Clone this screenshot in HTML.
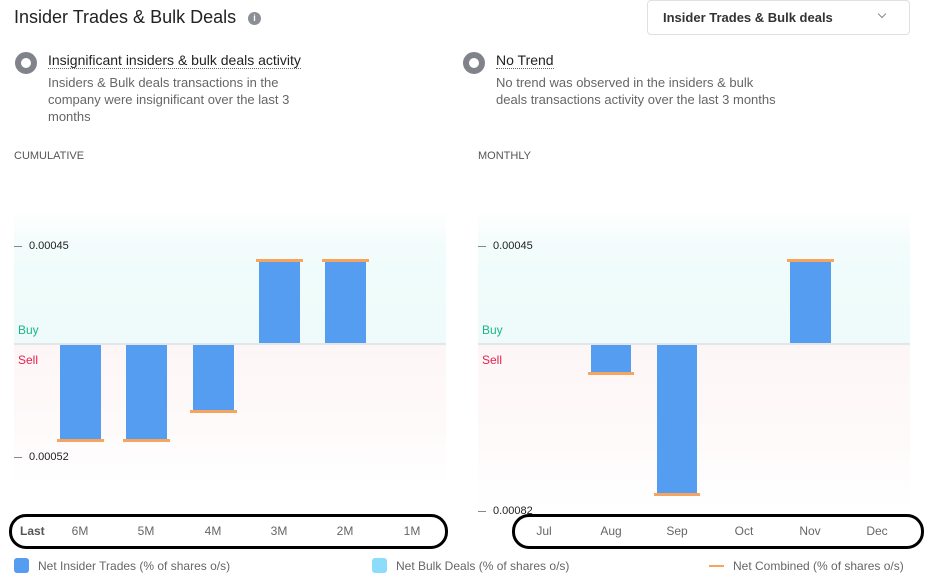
<!DOCTYPE html><html><head><style>
body{margin:0;width:936px;height:579px;background:#fff;font-family:"Liberation Sans",sans-serif;position:relative;overflow:hidden}
.a{position:absolute;white-space:nowrap}
.bar{position:absolute;background:#559df0}
.ol{position:absolute;height:3px;background:#f7a55e}
.t{font-size:11px;color:#222}
.x{font-size:12px;color:#666;width:40px;text-align:center}
</style></head><body>
<div class="a" style="left:14px;top:7px;font-size:18px;color:#222">Insider Trades &amp; Bulk Deals</div>
<div class="a" style="left:248px;top:12px;width:13px;height:13px;border-radius:50%;background:#8b8f95;color:#fff;font-size:9px;font-weight:bold;text-align:center;line-height:13px">i</div>
<div class="a" style="left:647px;top:0;width:261px;height:33px;border:1px solid #dde0e4;border-radius:4px"></div>
<div class="a" style="left:663px;top:10px;font-size:13px;font-weight:bold;color:#333">Insider Trades &amp; Bulk deals</div>
<div class="a" style="left:879px;top:11px;width:5px;height:5px;border-right:1px solid #888;border-bottom:1px solid #888;transform:rotate(45deg)"></div>

<div class="a" style="left:15px;top:52px;width:10px;height:10px;border:6px solid #80848a;border-radius:50%;background:#fff"></div>
<div class="a" style="left:48px;top:52px;font-size:14px;color:#222;border-bottom:1px dotted #666;line-height:16px">Insignificant insiders &amp; bulk deals activity</div>
<div class="a" style="left:48px;top:74px;font-size:13px;color:#666;line-height:17px">Insiders &amp; Bulk deals transactions in the<br>company were insignificant over the last 3<br>months</div>
<div class="a" style="left:463px;top:52px;width:10px;height:10px;border:6px solid #80848a;border-radius:50%;background:#fff"></div>
<div class="a" style="left:496px;top:52px;font-size:14px;color:#222;border-bottom:1px dotted #666;line-height:16px">No Trend</div>
<div class="a" style="left:496px;top:74px;font-size:13px;color:#666;line-height:17px">No trend was observed in the insiders &amp; bulk<br>deals transactions activity over the last 3 months</div>

<div class="a" style="left:14px;top:150px;font-size:11px;color:#555">CUMULATIVE</div>
<div class="a" style="left:478px;top:150px;font-size:11px;color:#555">MONTHLY</div>

<div class="a" style="left:14px;top:210px;width:432px;height:133px;background:linear-gradient(#fff,#f1fcfb 30%,#eefbfa)"></div>
<div class="a" style="left:14px;top:343px;width:432px;height:2px;background:#e3e6e9"></div>
<div class="a" style="left:14px;top:345px;width:432px;height:140px;background:linear-gradient(#fdf6f7,#fefafa 60%,#fff)"></div>
<div class="a" style="left:478px;top:210px;width:432px;height:133px;background:linear-gradient(#fff,#f1fcfb 30%,#eefbfa)"></div>
<div class="a" style="left:478px;top:343px;width:432px;height:2px;background:#e3e6e9"></div>
<div class="a" style="left:478px;top:345px;width:432px;height:165px;background:linear-gradient(#fdf6f7,#fefafa 60%,#fff)"></div>

<div class="a" style="left:18px;top:323px;font-size:12px;color:#1bb58c">Buy</div>
<div class="a" style="left:18px;top:353px;font-size:12px;color:#e8204e">Sell</div>
<div class="a" style="left:482px;top:323px;font-size:12px;color:#1bb58c">Buy</div>
<div class="a" style="left:482px;top:353px;font-size:12px;color:#e8204e">Sell</div>

<div class="a" style="left:14px;top:246px;width:8px;height:1px;background:#888"></div><div class="a t" style="left:29px;top:240px">0.00045</div>
<div class="a" style="left:14px;top:457px;width:8px;height:1px;background:#888"></div><div class="a t" style="left:29px;top:451px">0.00052</div>
<div class="a" style="left:478px;top:246px;width:8px;height:1px;background:#888"></div><div class="a t" style="left:493px;top:240px">0.00045</div>
<div class="a" style="left:478px;top:511px;width:8px;height:1px;background:#888"></div><div class="a t" style="left:493px;top:505px">0.00082</div>

<div class="bar" style="left:60px;top:345px;width:41px;height:95px"></div><div class="ol" style="left:57px;top:439px;width:47px"></div>
<div class="bar" style="left:126px;top:345px;width:41px;height:95px"></div><div class="ol" style="left:123px;top:439px;width:47px"></div>
<div class="bar" style="left:193px;top:345px;width:41px;height:66px"></div><div class="ol" style="left:190px;top:410px;width:47px"></div>
<div class="bar" style="left:259px;top:261px;width:41px;height:82px"></div><div class="ol" style="left:256px;top:259px;width:47px"></div>
<div class="bar" style="left:325px;top:261px;width:41px;height:82px"></div><div class="ol" style="left:322px;top:259px;width:47px"></div>
<div class="bar" style="left:591px;top:345px;width:40px;height:28px"></div><div class="ol" style="left:588px;top:372px;width:46px"></div>
<div class="bar" style="left:657px;top:345px;width:40px;height:149px"></div><div class="ol" style="left:654px;top:493px;width:46px"></div>
<div class="bar" style="left:790px;top:261px;width:41px;height:82px"></div><div class="ol" style="left:787px;top:259px;width:47px"></div>

<div class="a" style="left:9px;top:514px;width:433px;height:29px;border:3px solid #000;border-radius:17px"></div>
<div class="a" style="left:20px;top:524px;font-size:12px;font-weight:bold;color:#555">Last</div>
<div class="a x" style="left:60px;top:524px">6M</div><div class="a x" style="left:126px;top:524px">5M</div><div class="a x" style="left:193px;top:524px">4M</div><div class="a x" style="left:259px;top:524px">3M</div><div class="a x" style="left:325px;top:524px">2M</div><div class="a x" style="left:392px;top:524px">1M</div>
<div class="a" style="left:512px;top:514px;width:406px;height:29px;border:3px solid #000;border-radius:17px"></div>
<div class="a x" style="left:524px;top:524px">Jul</div><div class="a x" style="left:591px;top:524px">Aug</div><div class="a x" style="left:657px;top:524px">Sep</div><div class="a x" style="left:724px;top:524px">Oct</div><div class="a x" style="left:790px;top:524px">Nov</div><div class="a x" style="left:857px;top:524px">Dec</div>

<div class="a" style="left:14px;top:558px;width:15px;height:15px;border-radius:3px;background:#559df0"></div>
<div class="a" style="left:38px;top:559px;font-size:12px;color:#666">Net Insider Trades (% of shares o/s)</div>
<div class="a" style="left:372px;top:558px;width:15px;height:15px;border-radius:3px;background:#8ddcfc"></div>
<div class="a" style="left:396px;top:559px;font-size:12px;color:#666">Net Bulk Deals (% of shares o/s)</div>
<div class="a" style="left:709px;top:565px;width:15px;height:2px;background:#f7a55e"></div>
<div class="a" style="left:733px;top:559px;font-size:12px;color:#666">Net Combined (% of shares o/s)</div>
</body></html>
